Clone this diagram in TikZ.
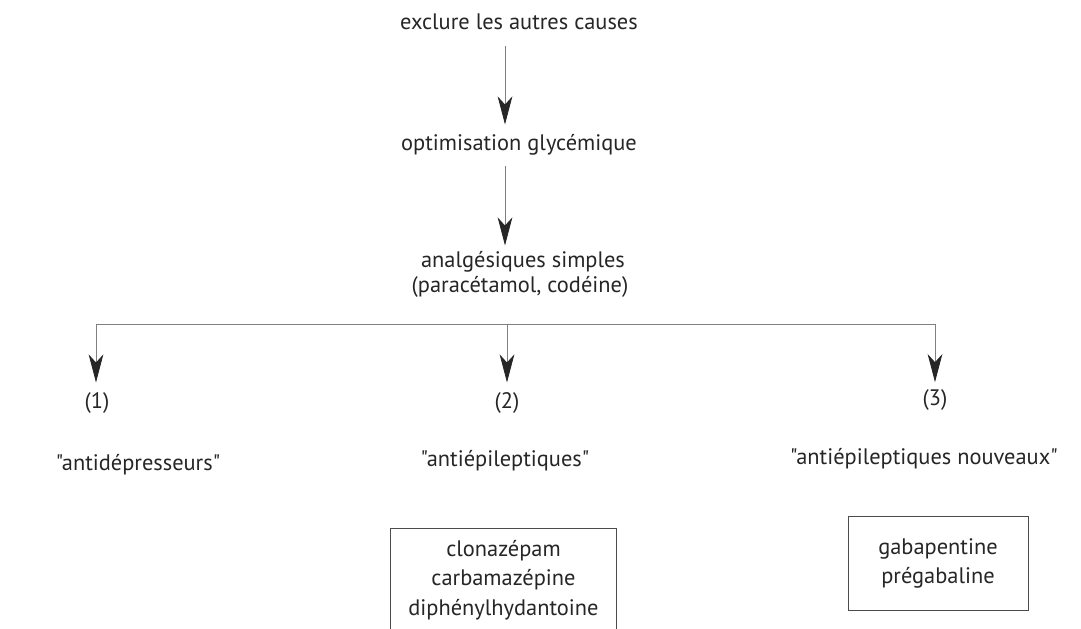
\documentclass[tikz,border=0pt]{standalone}
\usepackage{fontspec}
\setmainfont{PT Sans}[Ligatures=TeXOff]
\usetikzlibrary{arrows.meta,calc}
\begin{document}
\begin{tikzpicture}[x=0.75pt,y=-0.75pt,
  lbl/.style={inner sep=0pt,font=\fontsize{16.8}{21}\selectfont,text=black!85,text height=0.72em,text depth=0.22em},
  conn/.style={draw=black!50,line width=0.6pt},
  arr/.style={conn,-{Stealth[length=21pt,width=11pt,inset=6pt,color=black!85,fill=black!85]}},
  boxed/.style={draw=black!70,line width=0.6pt,inner sep=0pt,align=center,font=\fontsize{16.8}{22}\selectfont,text=black!85}
]
\useasboundingbox (0,0) rectangle (1081,628);
\clip (0,0) rectangle (1081,628);
\fill[white] (0,0) rectangle (1081,628);

\node[lbl] (exclure) at (519,26) {exclure les autres causes};
\node[lbl] (optim) at (519,147) {optimisation glycémique};
\node[lbl] (ana1) at (523,264) {analgésiques simples};
\node[lbl] (ana2) at (520,289) {(paracétamol, codéine)};

\node[lbl] (p1) at (97,405) {(1)};
\node[lbl] (p2) at (507,405) {(2)};
\node[lbl] (p3) at (935,402) {(3)};

\node[lbl] (t1) at (138,467) {"antidépresseurs"};
\node[lbl] (t2) at (505,463) {"antiépileptiques"};
\node[lbl] (t3) at (924,461) {"antiépileptiques nouveaux"};

\node[boxed,minimum width=170pt,minimum height=78pt] (b2) at (503.5,580) {clonazépam\\carbamazépine\\diphénylhydantoine};
\node[boxed,minimum width=135pt,minimum height=70pt] (b3) at (938,563.5) {gabapentine\\prégabaline};

\coordinate (hl) at (96,324);
\coordinate (hm) at (507,324);
\coordinate (hr) at (935,324);

\draw[arr,shorten <=10pt,shorten >=12pt] ([xshift=-10.5pt]exclure.south) -- ([xshift=-10.5pt]optim.north);
\draw[arr,shorten <=9.5pt,shorten >=9pt] ([xshift=-10.5pt]optim.south) -- ([xshift=-13.5pt]ana1.north);

\draw[conn] (hl) -- (hr);
\draw[arr,shorten >=12pt] (hl) -- (hl |- p1.north);
\draw[arr,shorten >=12pt] (hm) -- (p2.north);
\draw[arr,shorten >=10pt] (hr) -- (p3.north);
\end{tikzpicture}
\end{document}
